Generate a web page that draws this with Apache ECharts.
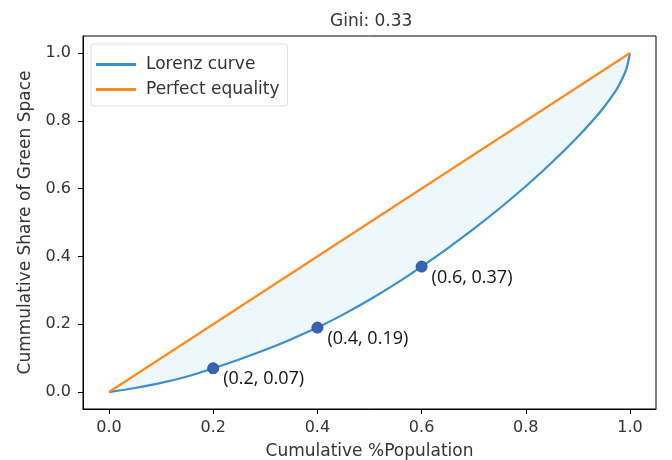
<!DOCTYPE html>
<html>
<head>
<meta charset="utf-8">
<script src="https://cdn.jsdelivr.net/npm/echarts@6/dist/echarts.min.js"></script>
<style>html,body{margin:0;padding:0;background:#fff}#c{width:672px;height:460px}</style>
</head>
<body>
<div id="c"></div>
<script>
var lorenzX = [0, 0.05, 0.1, 0.15, 0.2, 0.25, 0.3, 0.35, 0.4, 0.45, 0.5, 0.55, 0.6, 0.65, 0.7, 0.75, 0.8, 0.85, 0.9, 0.93, 0.95, 0.97, 0.98, 0.99, 0.995, 1.0];
var lorenzY = [0, 0.012, 0.027, 0.046, 0.07, 0.096, 0.1245, 0.156, 0.19, 0.229, 0.272, 0.319, 0.37, 0.424, 0.481, 0.542, 0.607, 0.677, 0.753, 0.803, 0.84, 0.882, 0.908, 0.94, 0.963, 1.0];
var equalityX = [0, 1];
var equalityY = [0, 1];
var pointX = [0.2, 0.4, 0.6];
var pointY = [0.07, 0.19, 0.37];
var pointLabels = ['(0.2, 0.07)', '(0.4, 0.19)', '(0.6, 0.37)'];
var tickValues = [0, 0.2, 0.4, 0.6, 0.8, 1.0];
var tickLabels = ['0.0', '0.2', '0.4', '0.6', '0.8', '1.0'];

function pairs(xs, ys) { return xs.map(function (x, i) { return [x, ys[i]]; }); }
var lorenz = pairs(lorenzX, lorenzY);
var equality = pairs(equalityX, equalityY);
var pts = pairs(pointX, pointY).map(function (p, i) { return { value: p, label: { formatter: pointLabels[i] } }; });

function fmt(v) {
  var i = tickValues.findIndex(function (t) { return Math.abs(t - v) < 1e-9; });
  return i >= 0 ? tickLabels[i] : '';
}
var FONT = 'DejaVu Sans';
function axis(extra) {
  return Object.assign({
    type: 'value', min: -0.05, max: 1.05,
    splitLine: { show: false },
    axisLine: { show: true, onZero: false, lineStyle: { color: '#000', width: 1 } },
    axisTick: { show: true, length: 5, lineStyle: { color: '#000' }, customValues: tickValues },
    axisLabel: { color: '#333', fontSize: 16, fontFamily: FONT, customValues: tickValues, formatter: fmt },
    nameLocation: 'middle',
    nameTextStyle: { color: '#333', fontSize: 17, fontFamily: FONT }
  }, extra);
}

var chart = echarts.init(document.getElementById('c'));
var xa = axis({ name: 'Cumulative %Population', nameGap: 34 });
xa.axisLabel.margin = 11;
var ya = axis({ name: 'Cummulative Share of Green Space', nameGap: 49 });
ya.axisLabel.margin = 12;
chart.setOption({
  animation: false,
  backgroundColor: '#fff',
  title: { text: 'Gini: 0.33', left: 325, top: 8,
    textStyle: { fontSize: 17, fontWeight: 'normal', color: '#333', fontFamily: FONT } },
  grid: { left: 83, right: 16, top: 36, bottom: 51, show: true, borderColor: '#000', borderWidth: 1,
    backgroundColor: '#fff', containLabel: false, outerBoundsMode: 'none' },
  legend: {
    data: ['Lorenz curve', 'Perfect equality'],
    left: 91, top: 44, orient: 'vertical', itemGap: 8,
    itemWidth: 40, itemHeight: 3,
    padding: [12, 8, 8, 5],
    backgroundColor: '#fff', borderColor: '#ddd', borderWidth: 1, borderRadius: 3,
    textStyle: { fontSize: 17, color: '#333', fontFamily: FONT, padding: [0, 0, 0, 5] },
    icon: 'rect'
  },
  xAxis: xa,
  yAxis: ya,
  series: [
    { name: 'fillTop', type: 'line', data: equality, symbol: 'none', silent: true, z: 1,
      lineStyle: { width: 0 }, areaStyle: { color: '#eef7fc', opacity: 1 } },
    { name: 'fillBottom', type: 'line', data: lorenz, symbol: 'none', silent: true, z: 1,
      smooth: 0.3,
      lineStyle: { width: 0 }, areaStyle: { color: '#fff', opacity: 1 } },
    { name: 'Lorenz curve', type: 'line', data: lorenz, symbol: 'none', z: 3,
      smooth: 0.3, color: '#3a8fd0',
      lineStyle: { color: '#3a8fd0', width: 2.2 } },
    { name: 'Perfect equality', type: 'line', data: equality, symbol: 'none', z: 3,
      color: '#ff8a1e', lineStyle: { color: '#ff8a1e', width: 2.2 } },
    { name: 'points', type: 'scatter', data: pts, symbolSize: 11, z: 5,
      itemStyle: { color: '#3a63b5', borderColor: '#2a4f99', borderWidth: 1, opacity: 1 },
      label: { show: true, position: 'right', distance: 4, offset: [0, 11],
        color: '#111', fontSize: 18, fontFamily: 'Open Sans' } }
  ]
});
</script>
</body>
</html>
